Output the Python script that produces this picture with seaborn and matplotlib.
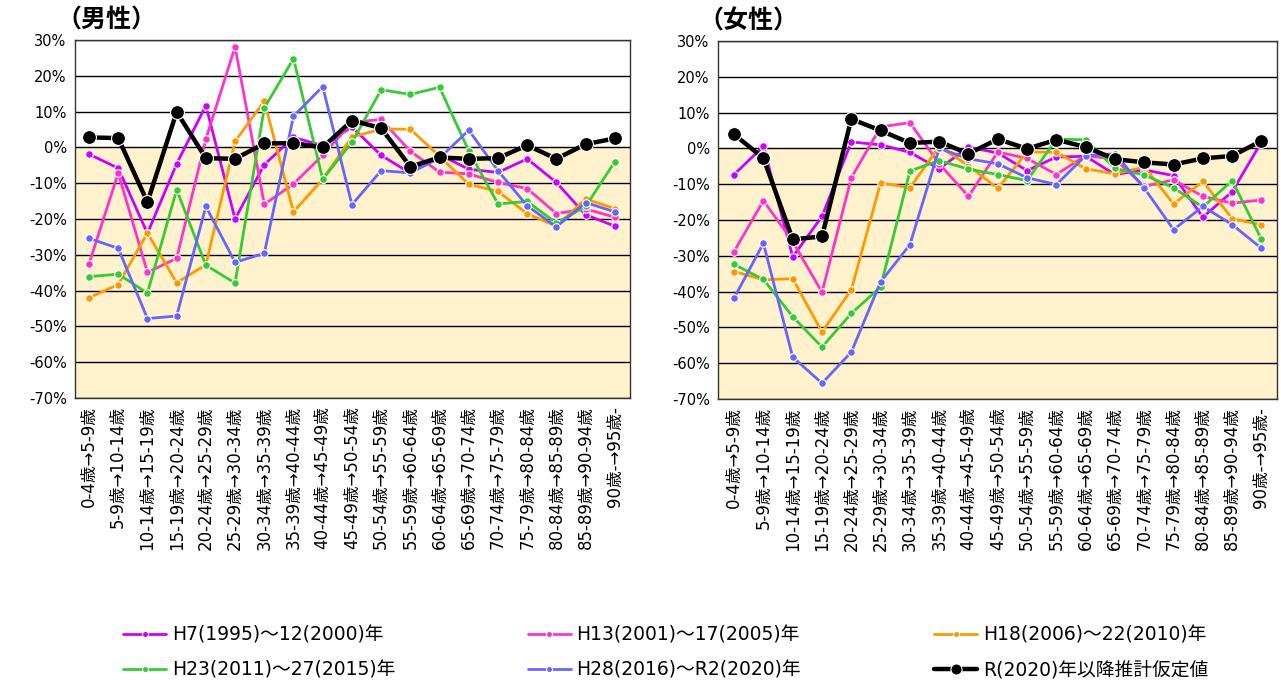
import matplotlib
matplotlib.use("Agg")
import matplotlib.pyplot as plt
import seaborn as sns
import pandas as pd

# age-cohort transitions
ages = ["0-4歳→5-9歳", "5-9歳→10-14歳", "10-14歳→15-19歳", "15-19歳→20-24歳",
        "20-24歳→25-29歳", "25-29歳→30-34歳", "30-34歳→35-39歳", "35-39歳→40-44歳",
        "40-44歳→45-49歳", "45-49歳→50-54歳", "50-54歳→55-59歳", "55-59歳→60-64歳",
        "60-64歳→65-69歳", "65-69歳→70-74歳", "70-74歳→75-79歳", "75-79歳→80-84歳",
        "80-84歳→85-89歳", "85-89歳→90-94歳", "90歳-→95歳-"]

series_names = ["H7(1995)～12(2000)年", "H13(2001)～17(2005)年", "H18(2006)～22(2010)年",
                "H23(2011)～27(2015)年", "H28(2016)～R2(2020)年", "R(2020)年以降推計仮定値"]

# male (%)
h7_m = [-1.9, -5.8, -24.0, -4.6, 11.7, -20.0, -4.8, 2.8, 0.5, 5.7, -2.2, -7.2, -2.0, -6.1, -7.0, -3.2, -9.8, -18.8, -22.0]
h13_m = [-32.5, -7.2, -34.9, -31.0, 2.3, 28.1, -15.9, -10.2, -2.2, 7.0, 7.8, -1.1, -6.9, -7.4, -9.8, -11.5, -18.5, -17.2, -19.5]
h18_m = [-42.0, -38.3, -23.9, -37.8, -32.8, 1.7, 12.9, -18.0, -8.9, 2.9, 5.1, 5.1, -2.5, -10.3, -12.3, -18.5, -22.0, -14.4, -17.1]
h23_m = [-36.1, -35.4, -40.7, -11.8, -32.9, -37.9, 11.0, 24.8, -8.9, 1.4, 16.1, 14.8, 16.8, -1.0, -15.8, -15.1, -21.1, -16.5, -4.0]
h28_m = [-25.4, -28.2, -47.8, -47.1, -16.5, -32.1, -29.6, 8.7, 17.0, -16.0, -6.5, -7.1, -3.0, 4.8, -6.5, -16.3, -22.2, -15.4, -18.0]
r2_m = [2.8, 2.6, -15.3, 9.9, -3.0, -3.2, 1.1, 1.2, 0.0, 7.5, 5.4, -5.4, -2.8, -3.2, -3.0, 0.6, -3.2, 0.9, 2.5]

# female (%)
h7_f = [-7.3, 0.6, -30.3, -19.0, 1.8, 1.0, -1.1, -5.7, 0.4, -1.3, -6.2, -2.4, -2.2, -7.3, -6.0, -7.6, -19.2, -12.1, 1.8]
h13_f = [-28.8, -14.6, -26.0, -40.2, -8.2, 6.0, 7.2, -4.3, -13.4, -1.0, -2.8, -7.3, -2.0, -3.0, -10.6, -8.8, -13.4, -15.3, -14.4]
h18_f = [-34.4, -36.7, -36.4, -51.3, -39.5, -9.6, -11.0, 0.5, -4.8, -11.2, -1.0, -1.1, -5.7, -7.1, -5.2, -15.5, -9.2, -19.6, -21.4]
h23_f = [-32.4, -36.6, -47.0, -55.5, -46.1, -38.7, -6.3, -3.4, -5.8, -7.3, -9.0, 2.6, 2.4, -5.6, -7.4, -11.0, -16.4, -9.0, -25.4]
h28_f = [-41.8, -26.5, -58.3, -65.6, -56.9, -37.3, -26.9, 0.0, -2.9, -4.3, -8.2, -10.1, -2.0, -1.5, -11.1, -22.7, -16.2, -21.3, -27.9]
r2_f = [3.9, -2.7, -25.4, -24.6, 8.2, 5.0, 1.5, 1.9, -1.5, 2.6, -0.1, 2.4, 0.4, -3.0, -3.9, -4.5, -2.8, -2.1, 2.1]

colors = ["#CC00FF", "#FF33CC", "#FF9900", "#33CC33", "#6666FF", "#000000"]

sns.set_style("white")
plt.rcParams['font.family'] = ['DejaVu Sans', 'Noto Sans CJK JP']
plt.rcParams['text.color'] = 'black'
plt.rcParams['xtick.color'] = 'black'
plt.rcParams['ytick.color'] = 'black'

fig = plt.figure(figsize=(12.81, 6.8), dpi=100)
ax_m = fig.add_axes([75 / 1281, 1 - 398 / 680, 555 / 1281, 358 / 680])
ax_f = fig.add_axes([718 / 1281, 1 - 399 / 680, 559 / 1281, 358 / 680])


def draw(ax, all_series, title, title_x, xlim):
    ax.axhspan(-70, 0, color="#FFF2CC", zorder=0)
    for name, vals, c in zip(series_names, all_series, colors):
        big = c == "#000000"
        sns.lineplot(x=ages, y=vals, ax=ax, color=c, sort=False, label=name,
                     marker="o", markersize=10 if big else 5.5,
                     markeredgecolor="white", markeredgewidth=0.8,
                     linewidth=3.2 if big else 2.0, zorder=5 if big else 3)
    ax.set_ylim(-70, 30)
    ax.set_xlim(*xlim)
    ax.set_yticks(range(-70, 31, 10))
    ax.set_yticklabels([f"{v}%" for v in range(-70, 31, 10)], fontsize=10.5)
    ax.grid(axis="y", color="black", linewidth=1, zorder=1)
    ax.set_axisbelow(True)
    ax.tick_params(axis="y", length=0, pad=6)
    ax.tick_params(axis="x", length=0, pad=6, labelrotation=90, labelsize=12)
    for s in ax.spines.values():
        s.set_color("#333333")
        s.set_linewidth(1)
    ax.set_xlabel("")
    ax.set_ylabel("")
    ax.get_legend().remove()
    fig.text(title_x, 1 - 21 / 680, title, fontsize=18, fontweight="bold",
             family="Noto Sans CJK JP", va="center", ha="left")


draw(ax_m, [h7_m, h13_m, h18_m, h23_m, h28_m, r2_m], "（男性）", 56 / 1281, (-0.48, 18.52))
draw(ax_f, [h7_f, h13_f, h18_f, h23_f, h28_f, r2_f], "（女性）", 698 / 1281, (-0.55, 18.53))

handles, labels = ax_m.get_legend_handles_labels()
order = [0, 3, 1, 4, 2, 5]
fig.legend([handles[i] for i in order], [labels[i] for i in order],
           ncol=3, mode="expand", loc="upper left",
           bbox_to_anchor=(123 / 1281, 1 - 632 / 680, 1085 / 1281, 0.01),
           frameon=False, fontsize=13.5, handlelength=2.3, handletextpad=0.3,
           borderpad=0, borderaxespad=0, labelspacing=0.85, markerscale=0.8)

fig.savefig("out.png", dpi=100)
